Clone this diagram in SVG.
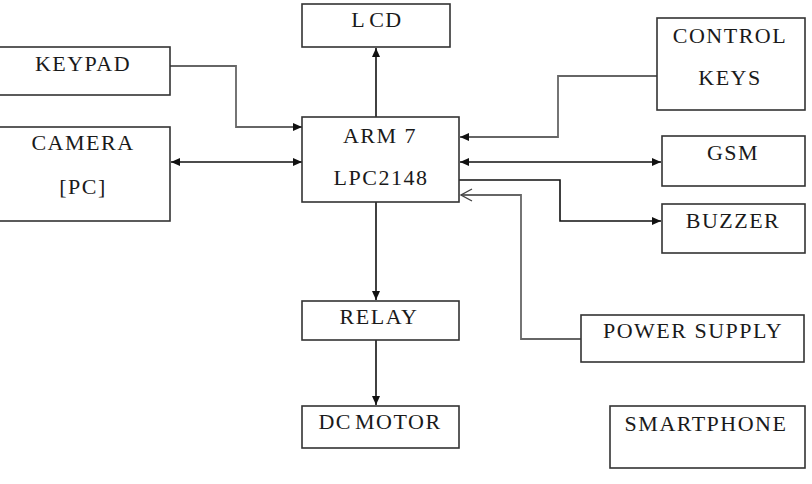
<svg xmlns="http://www.w3.org/2000/svg" width="812" height="484" viewBox="0 0 812 484">
<style>
.box{fill:#fff;stroke:#333;stroke-width:1.6}
.t{font-family:"Liberation Serif","Times New Roman",serif;font-size:22px;letter-spacing:1.5px;fill:#1a1a1a;text-anchor:middle}
.ln{fill:none;stroke:#111;stroke-width:1.6}
.gl{fill:none;stroke:#666;stroke-width:1.8}
</style>
<defs>
<marker id="ah" markerUnits="userSpaceOnUse" markerWidth="10" markerHeight="10" refX="9" refY="5" orient="auto-start-reverse">
<path d="M0,1 L9,5 L0,9 Z" fill="#111"/>
</marker>
<marker id="oh" markerUnits="userSpaceOnUse" markerWidth="14" markerHeight="16" refX="12" refY="8" orient="auto">
<path d="M1,2 L12,8 L1,14" fill="none" stroke="#444" stroke-width="1.4"/>
</marker>
</defs>
<g id="connectors">
<polyline class="gl" points="170,66 236,66 236,127 302,127" marker-end="url(#ah)"/>
<line class="ln" x1="171" y1="162" x2="302" y2="162" marker-start="url(#ah)" marker-end="url(#ah)"/>
<line class="ln" x1="376" y1="117" x2="376" y2="48" marker-end="url(#ah)"/>
<polyline class="gl" points="657,76 558,76 558,137 460,137" marker-end="url(#ah)"/>
<line class="ln" x1="460" y1="162" x2="661" y2="162" marker-start="url(#ah)" marker-end="url(#ah)"/>
<polyline class="ln" points="459,180 560,180 560,221 661,221" marker-end="url(#ah)"/>
<polyline class="gl" points="581,339 521,339 521,195 461,195" marker-end="url(#oh)"/>
<line class="ln" x1="376" y1="202" x2="376" y2="300" marker-end="url(#ah)"/>
<line class="ln" x1="376" y1="340" x2="376" y2="405" marker-end="url(#ah)"/>
</g>
<g id="keypad"><rect class="box" x="-2" y="47" width="172" height="48"/><text class="t" x="83" y="71">KEYPAD</text></g>
<g id="camera"><rect class="box" x="-2" y="127" width="172" height="94"/><text class="t" x="83" y="150">CAMERA</text><text class="t" x="83" y="194">[PC]</text></g>
<g id="lcd"><rect class="box" x="302" y="4" width="148" height="43"/><text class="t" x="377" y="27">L<tspan dx="3">CD</tspan></text></g>
<g id="arm"><rect class="box" x="302" y="117" width="157" height="85"/><text class="t" x="380" y="143">ARM 7</text><text class="t" x="381" y="185">LPC2148</text></g>
<g id="controlkeys"><rect class="box" x="657" y="18" width="148" height="92"/><text class="t" x="730" y="43">CONTROL</text><text class="t" x="730" y="85">KEYS</text></g>
<g id="gsm"><rect class="box" x="662" y="136" width="143" height="50"/><text class="t" x="733" y="160">GSM</text></g>
<g id="buzzer"><rect class="box" x="662" y="204" width="143" height="49"/><text class="t" x="733" y="228">BUZZER</text></g>
<g id="relay"><rect class="box" x="302" y="301" width="157" height="39"/><text class="t" x="379" y="324">RELAY</text></g>
<g id="dcmotor"><rect class="box" x="302" y="406" width="157" height="42"/><text class="t" x="380" y="429" style="word-spacing:-4px">DC MOTOR</text></g>
<g id="powersupply"><rect class="box" x="581" y="315" width="223" height="47"/><text class="t" x="693" y="338">POWER SUPPLY</text></g>
<g id="smartphone"><rect class="box" x="610" y="406" width="195" height="62"/><text class="t" x="706" y="431">SMARTPHONE</text></g>
</svg>
